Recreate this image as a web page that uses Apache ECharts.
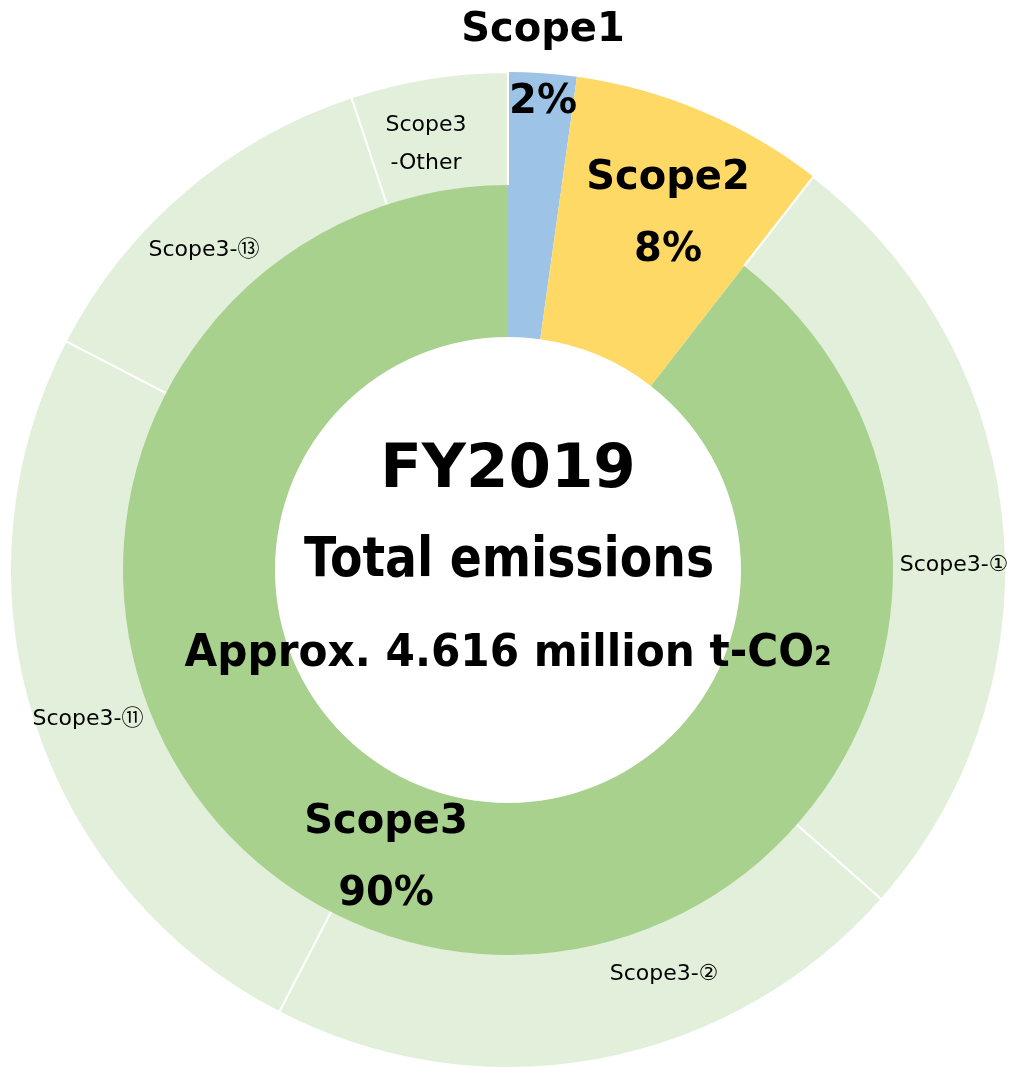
<!DOCTYPE html>
<html>
<head>
<meta charset="utf-8">
<script src="https://cdn.jsdelivr.net/npm/echarts@6/dist/echarts.min.js"></script>
<style>
  html, body { margin: 0; padding: 0; background: #ffffff; }
  #chart { width: 1013px; height: 1068px; }
</style>
</head>
<body>
<div id="chart"></div>
<script>
// FY2019 greenhouse gas emissions, thousand t-CO2
const scopeNames = ['Scope1', 'Scope2', 'Scope3'];
const scopeValues = [102, 383, 4131];

// Scope3 breakdown by category
const scope3Names = ['Scope3-①', 'Scope3-②', 'Scope3-⑪', 'Scope3-⑬', 'Scope3-Other'];
const scope3Labels = ['Scope3-①', 'Scope3-②', 'Scope3-⑪', 'Scope3-⑬', 'Scope3\n-Other'];
const scope3Values = [1200, 974, 1154, 568, 235];

const centerTitle = 'FY2019';
const centerSubtitle = 'Total emissions';
const centerAmount = 'Approx. 4.616 million t-CO';

const scopeColors = ['#9DC3E6', '#FFD966', '#A9D18E'];
const scope3Color = '#E2EFDA';
const FONT = '"DejaVu Sans", "Noto Sans CJK JP", sans-serif';

const CX = 508, CY = 570;

// label anchor points (centre of each label block)
const scopeLabelSpots = [[543, 67], [668, 215], [386, 859]];
const scope3LabelSpots = [[954, 565], [664, 974], [88, 719], [204, 250], [426, 144]];

function moveTo(spots) {
  return function (p) {
    const t = spots[p.dataIndex];
    const r = p.labelRect;
    if (!t || !r) return {};
    return { dx: t[0] - (r.x + r.width / 2), dy: t[1] - (r.y + r.height / 2) };
  };
}

const innerData = scopeNames.map((n, i) => ({
  name: n,
  value: scopeValues[i],
  itemStyle: { color: scopeColors[i] }
}));

// outer ring: Scope1 and Scope2 continue through, Scope3 split by category
const outerData = [
  { name: scopeNames[0], value: scopeValues[0], itemStyle: { color: scopeColors[0], borderWidth: 0 }, label: { show: false } },
  { name: scopeNames[1], value: scopeValues[1], itemStyle: { color: scopeColors[1], borderWidth: 0 }, label: { show: false } }
].concat(scope3Names.map((n, i) => ({
  name: n,
  value: scope3Values[i],
  itemStyle: { color: scope3Color, borderColor: '#ffffff', borderWidth: 2 },
  label: { show: true, formatter: scope3Labels[i] }
})));

const outerSpots = [null, null].concat(scope3LabelSpots);

const chart = echarts.init(document.getElementById('chart'), null, { renderer: 'canvas' });
chart.setOption({
  backgroundColor: '#ffffff',
  animation: false,
  series: [
    {
      type: 'pie',
      name: 'breakdown',
      z: 2,
      center: [CX, CY],
      radius: [380, 498],
      startAngle: 90,
      clockwise: true,
      avoidLabelOverlap: false,
      emphasis: { disabled: true },
      label: {
        position: 'inside',
        color: '#000000',
        fontFamily: FONT,
        fontSize: 22,
        fontWeight: 'normal',
        lineHeight: 38
      },
      labelLine: { show: false },
      labelLayout: moveTo(outerSpots),
      data: outerData
    },
    {
      type: 'pie',
      name: 'scope',
      z: 3,
      center: [CX, CY],
      radius: [233, 385],
      startAngle: 90,
      clockwise: true,
      percentPrecision: 0,
      avoidLabelOverlap: false,
      emphasis: { disabled: true },
      label: {
        show: true,
        position: 'inside',
        formatter: '{b}\n{d}%',
        color: '#000000',
        fontFamily: FONT,
        fontSize: 40,
        fontWeight: 'bold',
        lineHeight: 72
      },
      labelLine: { show: false },
      labelLayout: moveTo(scopeLabelSpots),
      data: innerData
    }
  ],
  graphic: [
    {
      type: 'text', x: CX, y: 471, z: 10,
      style: { text: centerTitle, fill: '#000', font: 'bold 61px ' + FONT, align: 'center', verticalAlign: 'middle' }
    },
    {
      type: 'text', x: CX + 1, y: 562, z: 10, scaleX: 0.86,
      style: { text: centerSubtitle, fill: '#000', font: 'bold 55px ' + FONT, align: 'center', verticalAlign: 'middle' }
    },
    {
      type: 'text', x: CX, y: 655, z: 10, scaleX: 0.96,
      style: {
        text: '{a|' + centerAmount + '}{s|2}',
        align: 'center', verticalAlign: 'middle',
        rich: {
          a: { fontFamily: FONT, fontWeight: 'bold', fontSize: 44, color: '#000' },
          s: { fontFamily: FONT, fontWeight: 'bold', fontSize: 26, color: '#000', verticalAlign: 'bottom', padding: [0, 0, 6, 0] }
        }
      }
    }
  ]
});
</script>
</body>
</html>
